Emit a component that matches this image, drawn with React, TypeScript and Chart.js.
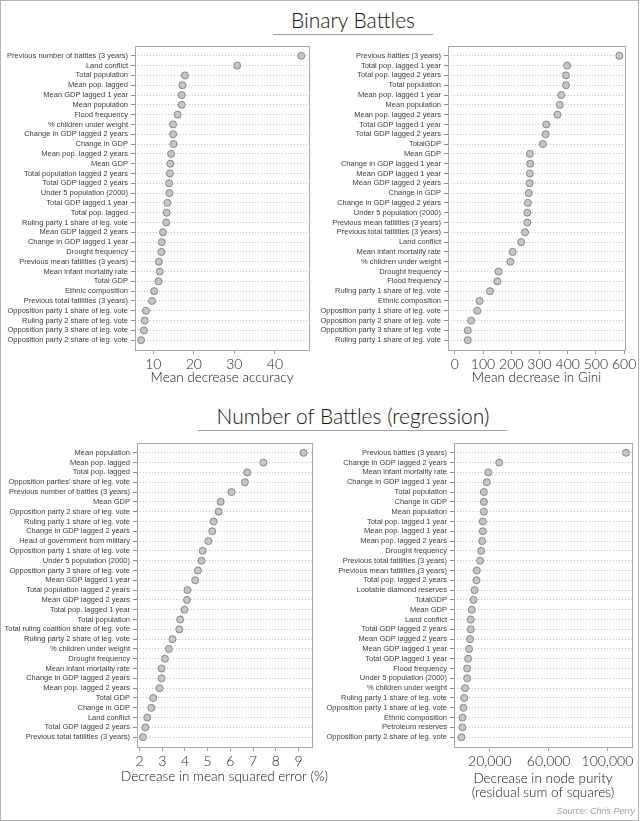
import React, { useEffect, useRef } from 'react';
import Chart from 'chart.js/auto';

// Binary battles: mean decrease accuracy
const accuracyLabels = [
  'Previous number of battles (3 years)',
  'Land conflict',
  'Total population',
  'Mean pop. lagged',
  'Mean GDP lagged 1 year',
  'Mean population',
  'Flood frequency',
  '% children under weight',
  'Change in GDP lagged 2 years',
  'Change in GDP',
  'Mean pop. lagged 2 years',
  'Mean GDP',
  'Total population lagged 2 years',
  'Total GDP lagged 2 years',
  'Under 5 population (2000)',
  'Total GDP lagged 1 year',
  'Total pop. lagged',
  'Ruling party 1 share of leg. vote',
  'Mean GDP lagged 2 years',
  'Change in GDP lagged 1 year',
  'Drought frequency',
  'Previous mean fatilities (3 years)',
  'Mean infant mortality rate',
  'Total GDP',
  'Ethnic composition',
  'Previous total fatilities (3 years)',
  'Opposition party 1 share of leg. vote',
  'Ruling party 2 share of leg. vote',
  'Opposition party 3 share of leg. vote',
  'Opposition party 2 share of leg. vote',
];
const accuracyValues = [
  46.5, 30.7, 17.8, 17.2, 17.0, 17.0, 16.0, 14.9, 14.9, 15.0, 14.4, 14.2, 14.1, 13.9, 14.0,
  13.5, 13.3, 13.2, 12.4, 12.1, 12.0, 11.4, 11.6, 11.3, 10.2, 9.7, 8.2, 7.9, 7.7, 7.0,
];
const accuracyTicks = [10, 20, 30, 40];

// Binary battles: mean decrease in Gini
const giniLabels = [
  'Previous battles (3 years)',
  'Total pop. lagged 1 year',
  'Total pop. lagged 2 years',
  'Total population',
  'Mean pop. lagged 1 year',
  'Mean population',
  'Mean pop. lagged 2 years',
  'Total GDP lagged 1 year',
  'Total GDP lagged 2 years',
  'TotalGDP',
  'Mean GDP',
  'Change in GDP lagged 1 year',
  'Mean GDP lagged 1 year',
  'Mean GDP lagged 2 years',
  'Change in GDP',
  'Change in GDP lagged 2 years',
  'Under 5 population (2000)',
  'Previous mean fatilities (3 years)',
  'Previous total fatilities (3 years)',
  'Land conflict',
  'Mean infant mortality rate',
  '% children under weight',
  'Drought frequency',
  'Flood frequency',
  'Ruling party 1 share of leg. vote',
  'Ethnic composition',
  'Opposition party 1 share of leg. vote',
  'Opposition party 2 share of leg. vote',
  'Opposition party 3 share of leg. vote',
  'Ruling party 1 share of leg. vote',
];
const giniValues = [
  583, 398, 394, 394, 377, 372, 364, 324, 322, 312, 266, 267, 266, 265, 262,
  259, 257, 257, 249, 235, 205, 197, 155, 151, 125, 88, 80, 58, 46, 46,
];
const giniTicks = [0, 100, 200, 300, 400, 500, 600];

// Regression: decrease in mean squared error (%)
const mseLabels = [
  'Mean population',
  'Mean pop. lagged',
  'Total pop. lagged',
  "Opposition parties' share of leg. vote",
  'Previous number of battles (3 years)',
  'Mean GDP',
  'Opposition party 2 share of leg. vote',
  'Ruling party 1 share of leg. vote',
  'Change in GDP lagged 2 years',
  'Head of government from military',
  'Opposition party 1 share of leg. vote',
  'Under 5 population (2000)',
  'Opposition party 3 share of leg. vote',
  'Mean GDP lagged 1 year',
  'Total population lagged 2 years',
  'Mean GDP lagged 2 years',
  'Total pop. lagged 1 year',
  'Total population',
  'Total ruling coalition share of leg. vote',
  'Ruling party 2 share of leg. vote',
  '% children under weight',
  'Drought frequency',
  'Mean infant mortality rate',
  'Change in GDP lagged 2 years',
  'Mean pop. lagged 2 years',
  'Total GDP',
  'Change in GDP',
  'Land conflict',
  'Total GDP lagged 2 years',
  'Previous total fatilities (3 years)',
];
const mseValues = [
  9.22, 7.45, 6.74, 6.64, 6.05, 5.57, 5.48, 5.26, 5.2, 5.03, 4.78, 4.73, 4.57, 4.45, 4.11,
  4.09, 3.98, 3.79, 3.75, 3.45, 3.29, 3.12, 2.97, 2.97, 2.88, 2.6, 2.52, 2.34, 2.26, 2.15,
];
const mseTicks = [2, 3, 4, 5, 6, 7, 8, 9];

// Regression: decrease in node purity
const purityLabels = [
  'Previous battles (3 years)',
  'Change in GDP lagged 2 years',
  'Mean infant mortality rate',
  'Change in GDP lagged 1 year',
  'Total population',
  'Change in GDP',
  'Mean population',
  'Total pop. lagged 1 year',
  'Mean pop. lagged 1 year',
  'Mean pop. lagged 2 years',
  'Drought frequency',
  'Previous total fatilities (3 years)',
  'Previous mean fatilities (3 years)',
  'Total pop. lagged 2 years',
  'Lootable diamond reserves',
  'TotalGDP',
  'Mean GDP',
  'Land conflict',
  'Total GDP lagged 2 years',
  'Mean GDP lagged 2 years',
  'Mean GDP lagged 1 year',
  'Total GDP lagged 1 year',
  'Flood frequency',
  'Under 5 population (2000)',
  '% children under weight',
  'Ruling party 1 share of leg. vote',
  'Opposition party 1 share of leg. vote',
  'Ethnic composition',
  'Petroleum reserves',
  'Opposition party 2 share of leg. vote',
];
const purityValues = [
  112600, 26350, 18840, 17950, 15900, 15900, 15900, 15200, 15200, 14750, 14060, 13380, 11120,
  10900, 9550, 8870, 7700, 7030, 7030, 6570, 5890, 5200, 4520, 4520, 3160, 2480, 2030, 1350,
  1350, 670,
];
const purityTicks = [20000, 60000, 100000];

const FONT = "'Liberation Sans', Arial, sans-serif";
const LIGHT = "Lato, 'Liberation Sans', sans-serif";

interface DotPanelProps {
  labels: string[];
  values: number[];
  ticks: number[];
  min: number;
  max: number;
  title: string[];
  titleOffset: number;
  left: number;
  top: number;
  width: number;
  height: number;
  yWidth: number;
  xHeight: number;
  padTop: number;
  padRight: number;
  format?: (v: number) => string;
}

const boxPlugin = {
  id: 'plotBox',
  beforeDatasetsDraw(chart: any) {
    const { ctx, chartArea } = chart;
    ctx.save();
    ctx.strokeStyle = '#a6a6a6';
    ctx.lineWidth = 1;
    ctx.strokeRect(
      Math.round(chartArea.left) + 0.5,
      Math.round(chartArea.top) + 0.5,
      Math.round(chartArea.right - chartArea.left),
      Math.round(chartArea.bottom - chartArea.top)
    );
    ctx.restore();
  },
};

const DotPanel: React.FC<DotPanelProps> = (props) => {
  const canvasRef = useRef<HTMLCanvasElement>(null);
  const chartRef = useRef<Chart | null>(null);

  useEffect(() => {
    const { labels, values, ticks, min, max, title, titleOffset, yWidth, xHeight, padTop, padRight, format } = props;
    if (!canvasRef.current) return;
    if (chartRef.current) chartRef.current.destroy();
    const ctx = canvasRef.current.getContext('2d');
    if (!ctx) return;

    // axis title, free to run past the plot edges like in the original
    const axisTitle = {
      id: 'axisTitle',
      afterDraw(chart: any) {
        const c = chart.ctx;
        const { left, right, bottom } = chart.chartArea;
        c.save();
        c.font = `300 13.5px ${LIGHT}`;
        c.fillStyle = '#111';
        c.textAlign = 'center';
        c.textBaseline = 'middle';
        title.forEach((line, i) => {
          c.fillText(line, (left + right) / 2, bottom + titleOffset + i * 14.4);
        });
        c.restore();
      },
    };

    chartRef.current = new Chart(ctx, {
      type: 'scatter',
      data: {
        datasets: [
          {
            data: values.map((v, i) => ({ x: v, y: i })),
            pointRadius: 3.5,
            pointHoverRadius: 3.5,
            pointBackgroundColor: '#c6c6c6',
            pointBorderColor: '#858585',
            pointBorderWidth: 1,
            clip: false,
          } as any,
        ],
      },
      options: {
        animation: false,
        responsive: false,
        events: [],
        layout: { padding: { left: 0, top: padTop, right: padRight, bottom: 0 } },
        plugins: { legend: { display: false }, tooltip: { enabled: false } },
        scales: {
          x: {
            type: 'linear',
            position: 'bottom',
            min,
            max,
            afterBuildTicks: (axis: any) => {
              axis.ticks = ticks.map((value) => ({ value }));
            },
            afterFit: (axis: any) => {
              axis.height = xHeight;
            },
            grid: { drawOnChartArea: false, drawTicks: true, tickLength: 4, color: '#9a9a9a' },
            border: { display: false },
            ticks: {
              autoSkip: false,
              maxRotation: 0,
              padding: 2,
              color: '#222',
              font: { family: LIGHT, size: 14, weight: 300 as any },
              callback: (v: any) => (format ? format(Number(v)) : String(v)),
            },
          },
          y: {
            type: 'linear',
            reverse: true,
            min: -1,
            max: labels.length,
            afterBuildTicks: (axis: any) => {
              axis.ticks = labels.map((_, i) => ({ value: i }));
            },
            afterFit: (axis: any) => {
              axis.width = yWidth;
            },
            grid: { color: '#c2c2c2', tickLength: 4, tickColor: '#8a8a8a', lineWidth: 1 },
            border: { display: false, dash: [1, 2] },
            ticks: {
              autoSkip: false,
              padding: 3,
              color: '#3a3a3a',
              font: { family: FONT, size: 7.5 },
              callback: (v: any) => labels[Number(v)] ?? '',
            },
          },
        },
      },
      plugins: [boxPlugin, axisTitle],
    });

    return () => {
      if (chartRef.current) {
        chartRef.current.destroy();
        chartRef.current = null;
      }
    };
  }, [props]);

  return (
    <canvas
      ref={canvasRef}
      width={props.width}
      height={props.height}
      style={{
        position: 'absolute',
        left: props.left,
        top: props.top,
        width: props.width,
        height: props.height,
      }}
    />
  );
};

const fmtThousands = (v: number) => v.toLocaleString('en-US');

const titleStyle: React.CSSProperties = {
  position: 'absolute',
  fontFamily: LIGHT,
  fontWeight: 300,
  fontSize: 21,
  lineHeight: '21px',
  color: '#111',
  textAlign: 'center',
  whiteSpace: 'nowrap',
};

const App: React.FC = () => {
  useEffect(() => {
    document.body.style.margin = '0';
  }, []);

  return (
    <div style={{ position: 'relative', width: 640, height: 821, background: '#fff', overflow: 'hidden' }}>
      <div
        style={{
          position: 'absolute',
          left: 0,
          top: 0,
          width: 639,
          height: 821,
          border: '1px solid #b3b3b3',
          boxSizing: 'border-box',
        }}
      />

      <div style={{ ...titleStyle, left: 253, top: 9, width: 200 }}>Binary Battles</div>
      <div style={{ position: 'absolute', left: 273, top: 34, width: 160, height: 1, background: '#a0a0a0' }} />

      <div style={{ ...titleStyle, left: 193, top: 405, width: 320 }}>Number of Battles (regression)</div>
      <div style={{ position: 'absolute', left: 198, top: 430, width: 309, height: 1, background: '#a0a0a0' }} />

      <DotPanel
        labels={accuracyLabels}
        values={accuracyValues}
        ticks={accuracyTicks}
        min={5.5}
        max={48.4}
        title={['Mean decrease accuracy']}
        titleOffset={28}
        left={0}
        top={36}
        width={320}
        height={349}
        yWidth={135}
        xHeight={35}
        padTop={10}
        padRight={11}
      />
      <DotPanel
        labels={giniLabels}
        values={giniValues}
        ticks={giniTicks}
        min={-24}
        max={603}
        title={['Mean decrease in Gini']}
        titleOffset={28}
        left={320}
        top={36}
        width={320}
        height={349}
        yWidth={128}
        xHeight={35}
        padTop={10}
        padRight={15}
      />
      <DotPanel
        labels={mseLabels}
        values={mseValues}
        ticks={mseTicks}
        min={1.89}
        max={9.59}
        title={['Decrease in mean squared error (%)']}
        titleOffset={29.5}
        left={0}
        top={433}
        width={335}
        height={351}
        yWidth={137}
        xHeight={37}
        padTop={10}
        padRight={23}
      />
      <DotPanel
        labels={purityLabels}
        values={purityValues}
        ticks={purityTicks}
        min={-4400}
        max={116700}
        title={['Decrease in node purity', '(residual sum of squares)']}
        titleOffset={31.4}
        left={320}
        top={433}
        width={320}
        height={367}
        yWidth={134}
        xHeight={53}
        padTop={10}
        padRight={8}
        format={fmtThousands}
      />

      <div
        style={{
          position: 'absolute',
          right: 5,
          top: 806,
          fontFamily: FONT,
          fontStyle: 'italic',
          fontSize: 9,
          color: '#a0a0a0',
          whiteSpace: 'nowrap',
        }}
      >
        Source: Chris Perry
      </div>
    </div>
  );
};

export default App;
